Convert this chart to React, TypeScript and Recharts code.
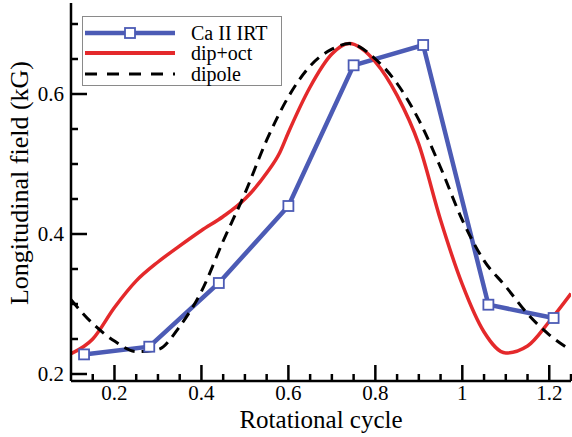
import React from 'react';
import { LineChart, Line, XAxis, YAxis, Legend } from 'recharts';

const BLUE = '#4c5bb5';
const RED = '#e4292b';
const FONT = 'Liberation Serif, Times New Roman, Times, serif';
const textStyle = { fontFamily: FONT };

// Ca II IRT measurements
const caX = [0.13, 0.28, 0.44, 0.60, 0.75, 0.91, 1.06, 1.21];
const caY = [0.228, 0.239, 0.330, 0.440, 0.641, 0.670, 0.299, 0.280];

// dip+oct model
const octX = [0.10, 0.15, 0.20, 0.25, 0.30, 0.35, 0.40, 0.45, 0.50, 0.55, 0.58, 0.60, 0.65, 0.70, 0.74, 0.80, 0.85, 0.90, 0.95, 1.00, 1.05, 1.10, 1.15, 1.20, 1.25];
const octY = [0.229, 0.250, 0.295, 0.333, 0.360, 0.383, 0.405, 0.425, 0.450, 0.487, 0.516, 0.545, 0.610, 0.657, 0.672, 0.646, 0.598, 0.528, 0.420, 0.328, 0.260, 0.230, 0.240, 0.275, 0.315];

// dipole model
const dipX = [0.10, 0.15, 0.20, 0.25, 0.30, 0.35, 0.40, 0.45, 0.50, 0.55, 0.60, 0.65, 0.70, 0.74, 0.80, 0.85, 0.90, 0.95, 1.00, 1.05, 1.10, 1.15, 1.20, 1.25];
const dipY = [0.306, 0.272, 0.247, 0.232, 0.235, 0.268, 0.318, 0.390, 0.458, 0.534, 0.596, 0.640, 0.664, 0.672, 0.650, 0.615, 0.563, 0.495, 0.420, 0.362, 0.325, 0.286, 0.256, 0.234];

const xTicks = [0.15, 0.2, 0.25, 0.3, 0.35, 0.4, 0.45, 0.5, 0.55, 0.6, 0.65, 0.7, 0.75, 0.8, 0.85, 0.9, 0.95, 1, 1.05, 1.1, 1.15, 1.2, 1.25];
const yTicks = [0.2, 0.25, 0.3, 0.35, 0.4, 0.45, 0.5, 0.55, 0.6, 0.65, 0.7];
const xMajor = [0.2, 0.4, 0.6, 0.8, 1, 1.2];
const yMajor = [0.2, 0.4, 0.6];

const toPoints = (xs: number[], ys: number[]) => xs.map((x, i) => ({ x, y: ys[i] }));
const caData = toPoints(caX, caY);
const octData = toPoints(octX, octY);
const dipData = toPoints(dipX, dipY);

const isMajor = (v: number, list: number[]) => list.some((m) => Math.abs(m - v) < 1e-6);

const MAJOR = 16;
const MINOR = 7;

const BottomTick = (props: any) => {
    const { x, y, payload } = props;
    const major = isMajor(payload.value, xMajor);
    return (
        <g>
            <line x1={x} x2={x} y1={y} y2={y - (major ? MAJOR : MINOR)} stroke="#000" strokeWidth={2.5} />
            {major && (
                <text x={x} y={y + 19} textAnchor="middle" fontSize={21} style={textStyle} fill="#000">
                    {String(payload.value)}
                </text>
            )}
        </g>
    );
};

const TopTick = (props: any) => {
    const { x, y, payload } = props;
    const major = isMajor(payload.value, xMajor);
    return <line x1={x} x2={x} y1={y} y2={y + (major ? MAJOR : MINOR)} stroke="#000" strokeWidth={2.5} />;
};

const LeftTick = (props: any) => {
    const { x, y, payload } = props;
    const major = isMajor(payload.value, yMajor);
    return (
        <g>
            <line x1={x} x2={x + (major ? MAJOR : MINOR)} y1={y} y2={y} stroke="#000" strokeWidth={2.5} />
            {major && (
                <text x={x - 7} y={y + 7} textAnchor="end" fontSize={21} style={textStyle} fill="#000">
                    {String(payload.value)}
                </text>
            )}
        </g>
    );
};

const RightTick = (props: any) => {
    const { x, y, payload } = props;
    const major = isMajor(payload.value, yMajor);
    return <line x1={x} x2={x - (major ? MAJOR : MINOR)} y1={y} y2={y} stroke="#000" strokeWidth={2.5} />;
};

const SquareDot = (props: any) => {
    const { cx, cy, index } = props;
    if (cx == null || cy == null) return <g key={index} />;
    return <rect key={index} x={cx - 5} y={cy - 5} width={10} height={10} fill="#fff" stroke={BLUE} strokeWidth={1.8} />;
};

const YLabel = (props: any) => {
    const vb = props.viewBox;
    const cx = vb.x + 28;
    const cy = vb.y + vb.height / 2 - 9;
    return (
        <text x={cx} y={cy} transform={`rotate(-90 ${cx} ${cy})`} textAnchor="middle" fontSize={26} style={textStyle} fill="#000">
            Longitudinal field (kG)
        </text>
    );
};

const XLabel = (props: any) => {
    const vb = props.viewBox;
    return (
        <text x={vb.x + vb.width / 2} y={vb.y + 47} textAnchor="middle" fontSize={25} style={textStyle} fill="#000">
            Rotational cycle
        </text>
    );
};

const renderLegend = () => (
    <svg width={200} height={70} style={{ display: 'block' }}>
        <rect x={0.5} y={0.5} width={199} height={69} fill="#fff" stroke="#8a8a8a" strokeWidth={1} />
        <line x1={3} x2={93} y1={17} y2={17} stroke={BLUE} strokeWidth={4.5} />
        <rect x={43} y={12} width={10} height={10} fill="#fff" stroke={BLUE} strokeWidth={1.8} />
        <line x1={3} x2={93} y1={37} y2={37} stroke={RED} strokeWidth={4} />
        <line x1={3} x2={93} y1={58} y2={58} stroke="#000" strokeWidth={3} strokeDasharray="12 10" />
        <text x={109} y={24} fontSize={20} style={textStyle} fill="#000">Ca II IRT</text>
        <text x={109} y={44} fontSize={20} style={textStyle} fill="#000">dip+oct</text>
        <text x={109} y={65} fontSize={20} style={textStyle} fill="#000">dipole</text>
    </svg>
);

const App: React.FC = () => {
    const xDomain: [number, number] = [0.1, 1.25];
    const yDomain: [number, number] = [0.19, 0.73];
    const axisLine = { stroke: '#000', strokeWidth: 2.5 };

    return (
        <div style={{ position: 'absolute', left: 0, top: 0, width: 572, height: 437, background: '#fff', fontFamily: FONT }}>
            <LineChart width={572} height={437} margin={{ top: 3, right: 1, bottom: 0, left: 0 }}>
                <XAxis
                    dataKey="x"
                    type="number"
                    domain={xDomain}
                    ticks={xTicks}
                    interval={0}
                    allowDataOverflow
                    height={56}
                    tickLine={false}
                    tickSize={0}
                    tickMargin={0}
                    axisLine={axisLine}
                    tick={<BottomTick />}
                    label={<XLabel />}
                />
                <XAxis
                    xAxisId="top"
                    orientation="top"
                    dataKey="x"
                    type="number"
                    domain={xDomain}
                    ticks={xTicks}
                    interval={0}
                    allowDataOverflow
                    height={0}
                    tickLine={false}
                    tickSize={0}
                    tickMargin={0}
                    axisLine={axisLine}
                    tick={<TopTick />}
                />
                <YAxis
                    type="number"
                    domain={yDomain}
                    ticks={yTicks}
                    interval={0}
                    allowDataOverflow
                    width={71}
                    tickLine={false}
                    tickSize={0}
                    tickMargin={0}
                    axisLine={axisLine}
                    tick={<LeftTick />}
                    label={<YLabel />}
                />
                <YAxis
                    yAxisId="right"
                    orientation="right"
                    type="number"
                    domain={yDomain}
                    ticks={yTicks}
                    interval={0}
                    allowDataOverflow
                    width={0}
                    tickLine={false}
                    tickSize={0}
                    tickMargin={0}
                    axisLine={axisLine}
                    tick={<RightTick />}
                />
                <Legend
                    layout="horizontal"
                    verticalAlign="middle"
                    align="center"
                    content={renderLegend}
                    wrapperStyle={{ position: 'absolute', left: 82, top: 16, width: 200, height: 70 }}
                />
                <Line
                    data={caData}
                    dataKey="y"
                    name="Ca II IRT"
                    type="linear"
                    stroke={BLUE}
                    strokeWidth={4.5}
                    dot={<SquareDot />}
                    isAnimationActive={false}
                />
                <Line
                    data={octData}
                    dataKey="y"
                    name="dip+oct"
                    type="monotone"
                    stroke={RED}
                    strokeWidth={3.5}
                    dot={false}
                    isAnimationActive={false}
                />
                <Line
                    data={dipData}
                    dataKey="y"
                    name="dipole"
                    type="monotone"
                    stroke="#000"
                    strokeWidth={3}
                    strokeDasharray="11 7"
                    dot={false}
                    isAnimationActive={false}
                />
            </LineChart>
        </div>
    );
};

export default App;
